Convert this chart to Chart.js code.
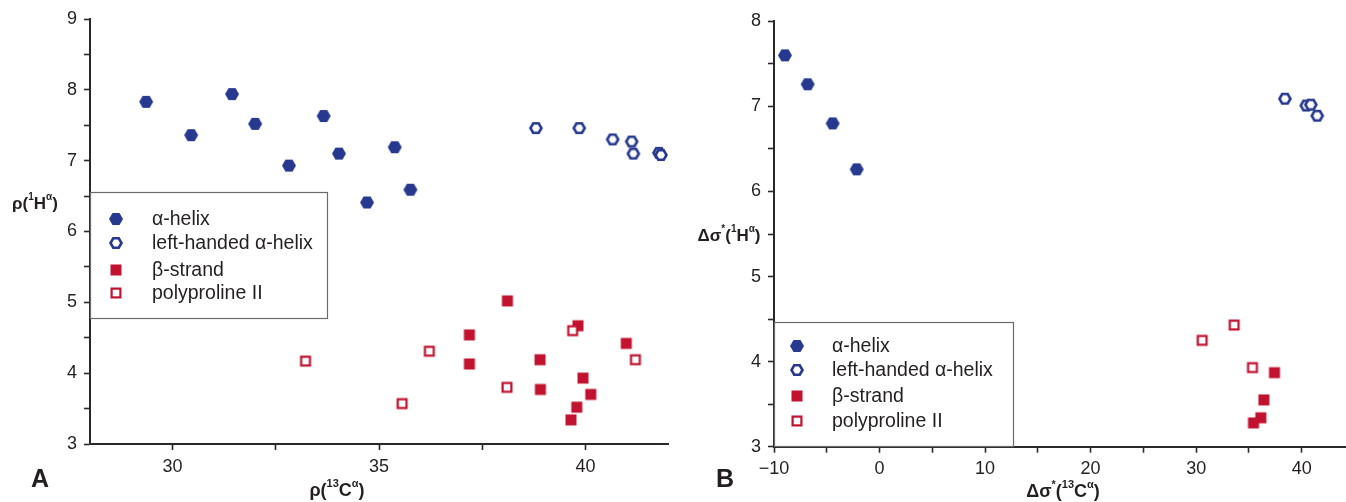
<!DOCTYPE html>
<html>
<head>
<meta charset="utf-8">
<script src="https://cdn.jsdelivr.net/npm/chart.js@4.4.1/dist/chart.umd.min.js"></script>
<style>
    html, body { margin: 0; padding: 0; background: #fff; }
    #wrap { position: relative; width: 1346px; height: 502px; overflow: hidden; }
    #chartA { position: absolute; left: 0; top: 0; }
    #chartB { position: absolute; left: 690px; top: 0; }
</style>
</head>
<body>
<div id="wrap">
    <canvas id="chartA" width="690" height="502"></canvas>
    <canvas id="chartB" width="656" height="502"></canvas>
</div>
<script>
    // series names (legend)
    const seriesNames = ['α-helix', 'left-handed α-helix', 'β-strand', 'polyproline II'];

    // Panel A: rho(13C alpha) vs rho(1H alpha)
    const helixA_x = [29.36, 30.45, 31.44, 32.0, 32.82, 33.66, 34.03, 35.38, 35.76, 34.71];
    const helixA_y = [7.83, 7.36, 7.94, 7.52, 6.93, 7.63, 7.10, 7.19, 6.59, 6.41];
    const leftHelixA_x = [38.80, 39.85, 40.66, 41.12, 41.16, 41.78, 41.83];
    const leftHelixA_y = [7.46, 7.46, 7.30, 7.27, 7.10, 7.11, 7.08];
    const strandA_x = [38.11, 37.19, 37.19, 39.82, 40.99, 38.90, 38.91, 39.94, 40.13, 39.79, 39.65];
    const strandA_y = [5.02, 4.54, 4.13, 4.67, 4.42, 4.19, 3.77, 3.93, 3.70, 3.52, 3.34];
    const ppiiA_x = [33.22, 35.56, 36.22, 38.10, 39.69, 41.21];
    const ppiiA_y = [4.17, 3.57, 4.31, 3.80, 4.60, 4.19];
    const ticksA_x = [30, 32.5, 35, 37.5, 40];

    // Panel B: delta sigma*(13C alpha) vs delta sigma*(1H alpha)
    const helixB_x = [-8.96, -6.81, -4.44, -2.16];
    const helixB_y = [7.60, 7.26, 6.80, 6.26];
    const leftHelixB_x = [38.41, 40.43, 40.87, 41.47];
    const leftHelixB_y = [7.09, 7.01, 7.02, 6.89];
    const strandB_x = [37.42, 36.42, 36.13, 35.43];
    const strandB_y = [3.87, 3.55, 3.34, 3.28];
    const ppiiB_x = [30.57, 33.6, 35.34];
    const ppiiB_y = [4.25, 4.43, 3.93];
    const ticksB_x = [-10, -5, 0, 5, 10, 15, 20, 25, 30, 35, 40];

    const BLUE = '#27398f';
    const RED = '#c1122f';
    const AXIS = '#2b2829';
    const FONT = '"Liberation Sans", Arial, sans-serif';

    function zip(xs, ys) {
        return xs.map(function(x, i) { return { x: x, y: ys[i] }; });
    }

    // marker images
    function hexMarker(filled) {
        const c = document.createElement('canvas');
        c.width = 16; c.height = 16;
        const ctx = c.getContext('2d');
        const r = filled ? 7 : 5.5;
        ctx.beginPath();
        for (let i = 0; i < 6; i++) {
            const a = i * Math.PI / 3;
            const px = 8 + r * Math.cos(a), py = 8 + r * Math.sin(a);
            if (i === 0) ctx.moveTo(px, py); else ctx.lineTo(px, py);
        }
        ctx.closePath();
        if (filled) {
            ctx.fillStyle = BLUE;
            ctx.fill();
        } else {
            ctx.fillStyle = '#fff';
            ctx.fill();
            ctx.lineWidth = 2.6;
            ctx.strokeStyle = BLUE;
            ctx.stroke();
        }
        return c;
    }

    function squareMarker(filled) {
        const c = document.createElement('canvas');
        c.width = 14; c.height = 14;
        const ctx = c.getContext('2d');
        if (filled) {
            ctx.fillStyle = RED;
            ctx.fillRect(1.5, 1.5, 11, 11);
        } else {
            ctx.fillStyle = '#fff';
            ctx.fillRect(2.5, 2.5, 9, 9);
            ctx.lineWidth = 2.2;
            ctx.strokeStyle = RED;
            ctx.strokeRect(2.6, 2.6, 8.8, 8.8);
        }
        return c;
    }

    const markers = [hexMarker(true), hexMarker(false), squareMarker(true), squareMarker(false)];

    // text with superscript parts: [[text, isSup], ...]
    function drawRich(ctx, parts, cx, cy, size, weight) {
        const supSize = Math.round(size * 0.6);
        let total = 0;
        parts.forEach(function(p) {
            ctx.font = weight + ' ' + (p[1] ? supSize : size) + 'px ' + FONT;
            total += ctx.measureText(p[0]).width;
        });
        let x = cx - total / 2;
        ctx.textBaseline = 'middle';
        ctx.textAlign = 'left';
        parts.forEach(function(p) {
            ctx.font = weight + ' ' + (p[1] ? supSize : size) + 'px ' + FONT;
            ctx.fillText(p[0], x, p[1] ? cy - size * 0.38 : cy);
            x += ctx.measureText(p[0]).width;
        });
    }

    const panelDecor = {
        id: 'panelDecor',
        afterDraw: function(chart, args, opts) {
            const ctx = chart.ctx;
            ctx.save();
            // legend box
            const lg = opts.legend;
            ctx.fillStyle = '#fff';
            ctx.fillRect(lg.x, lg.y, lg.w, lg.h);
            ctx.strokeStyle = '#6d6a6b';
            ctx.lineWidth = 1.2;
            ctx.strokeRect(lg.x + 0.5, lg.y + 0.5, lg.w, lg.h);
            ctx.fillStyle = '#231f20';
            ctx.font = '19.5px ' + FONT;
            ctx.textBaseline = 'middle';
            ctx.textAlign = 'left';
            seriesNames.forEach(function(name, i) {
                const yy = lg.rowY[i];
                const m = markers[i];
                ctx.drawImage(m, lg.markerX - m.width / 2, yy - m.height / 2);
                ctx.fillText(name, lg.textX, yy + 1);
            });
            // axis titles and panel letter
            drawRich(ctx, opts.yTitle.parts, opts.yTitle.x, opts.yTitle.y, 17, 'bold');
            drawRich(ctx, opts.xTitle.parts, opts.xTitle.x, opts.xTitle.y, 18, 'bold');
            ctx.font = 'bold 25px ' + FONT;
            ctx.textAlign = 'center';
            ctx.textBaseline = 'middle';
            ctx.fillText(opts.letter.text, opts.letter.x, opts.letter.y);
            ctx.restore();
        }
    };

    function makeDatasets(hx, hy, lx, ly, sx, sy, px, py) {
        const sets = [
            { data: zip(hx, hy), pointStyle: markers[0], order: 3 },
            { data: zip(lx, ly), pointStyle: markers[1], order: 2 },
            { data: zip(sx, sy), pointStyle: markers[2], order: 1 },
            { data: zip(px, py), pointStyle: markers[3], order: 0 }
        ];
        return sets.map(function(s, i) {
            s.label = seriesNames[i];
            s.clip = false;
            s.pointRadius = 7;
            return s;
        });
    }

    function axisCommon() {
        return {
            border: { display: true, color: AXIS, width: 2 },
            grid: { display: true, drawOnChartArea: false, drawTicks: true, tickLength: 6, tickColor: AXIS, tickWidth: 1.6 },
            ticks: { color: '#231f20', font: { family: FONT, size: 18 }, autoSkip: false, maxRotation: 0 }
        };
    }

    function makeChart(id, datasets, xCfg, yCfg, padding, yWidth, decor) {
        const x = axisCommon();
        x.type = 'linear';
        x.min = xCfg.min; x.max = xCfg.max;
        x.ticks.padding = 6;
        x.ticks.callback = function(v) {
            if (xCfg.labels.indexOf(v) < 0) return '';
            return v < 0 ? '\u2212' + Math.abs(v) : String(v);
        };
        x.afterBuildTicks = function(scale) {
            scale.ticks = xCfg.ticks.map(function(v) { return { value: v }; });
        };
        x.afterFit = function(scale) {
            scale.height = 502 - padding.top - yCfg.plotH;
            scale.paddingLeft = 0;
            scale.paddingRight = 0;
        };

        const y = axisCommon();
        y.min = yCfg.min; y.max = yCfg.max;
        y.ticks.stepSize = 0.5;
        y.ticks.padding = 7;
        y.ticks.callback = function(v) { return Number.isInteger(v) ? String(v) : ''; };
        y.afterFit = function(scale) {
            scale.width = yWidth;
            scale.paddingTop = 0;
            scale.paddingBottom = 0;
        };

        return new Chart(document.getElementById(id), {
            type: 'scatter',
            data: { datasets: datasets },
            options: {
                responsive: false,
                animation: false,
                layout: { padding: padding, autoPadding: false },
                plugins: {
                    legend: { display: false },
                    tooltip: { enabled: false },
                    panelDecor: decor
                },
                scales: { x: x, y: y }
            },
            plugins: [panelDecor]
        });
    }

    makeChart('chartA',
        makeDatasets(helixA_x, helixA_y, leftHelixA_x, leftHelixA_y, strandA_x, strandA_y, ppiiA_x, ppiiA_y),
        { min: 28, max: 42, ticks: ticksA_x, labels: [30, 35, 40] },
        { min: 3, max: 9, plotH: 425 },
        { left: 0, top: 19, right: 22, bottom: 0 },
        90,
        {
            legend: { x: 90, y: 192, w: 237, h: 126, rowY: [219, 243, 270, 293], markerX: 116, textX: 152 },
            yTitle: { parts: [['ρ(', false], ['1', true], ['H', false], ['α', true], [')', false]], x: 35, y: 204 },
            xTitle: { parts: [['ρ(', false], ['13', true], ['C', false], ['α', true], [')', false]], x: 337, y: 491 },
            letter: { text: 'A', x: 40, y: 480 }
        });

    makeChart('chartB',
        makeDatasets(helixB_x, helixB_y, leftHelixB_x, leftHelixB_y, strandB_x, strandB_y, ppiiB_x, ppiiB_y),
        { min: -10, max: 44.2, ticks: ticksB_x, labels: [-10, 0, 10, 20, 30, 40] },
        { min: 3, max: 8, plotH: 425.4 },
        { left: 0, top: 21.3, right: 0, bottom: 0 },
        84,
        {
            legend: { x: 84, y: 322, w: 239, h: 124, rowY: [346, 370, 396, 421], markerX: 107, textX: 142 },
            yTitle: { parts: [['Δσ', false], ['*', true], ['(', false], ['1', true], ['H', false], ['α', true], [')', false]], x: 39, y: 236 },
            xTitle: { parts: [['Δσ', false], ['*', true], ['(', false], ['13', true], ['C', false], ['α', true], [')', false]], x: 373, y: 492 },
            letter: { text: 'B', x: 35, y: 480 }
        });
</script>
</body>
</html>
